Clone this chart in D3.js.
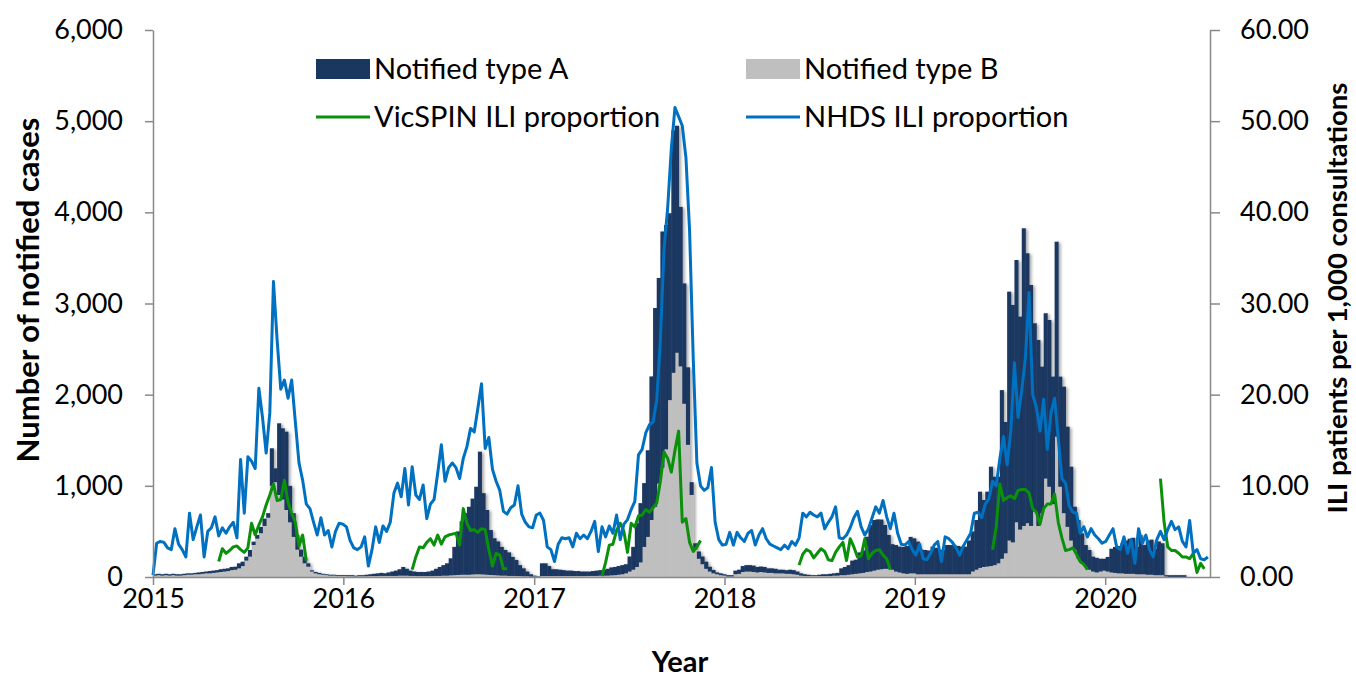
<!DOCTYPE html>
<html>
<head>
<meta charset="utf-8">
<script src="https://d3js.org/d3.v7.min.js"></script>
<style>
  body { margin: 0; background: #fff; }
  svg text { font-family: Lato, "Open Sans", sans-serif; fill: #000; }
</style>
</head>
<body>
<div id="chart"></div>
<script>

// weekly series, first week starts 1 Jan 2015
const firstWeek = new Date(2015, 0, 1)
const years = [2015, 2016, 2017, 2018, 2019, 2020]
const caseTicks = [0, 1000, 2000, 3000, 4000, 5000, 6000]
const iliTicks = [0, 10, 20, 30, 40, 50, 60]

// notified cases, type A (stacked on top of type B)
const typeA = [
  15,15,15,15,15,15,15,15,15,15, 15,15,20,20,20,25,25,25,30,30,
  30,35,33,55,48,43,73,37,41,70, 80,50,412,152,786,781,859,400,260,160,
  77,73,37,13,15,15,10,10,10,10, 10,10,10,
  12,12,9,12,12,17,20,25,30,33, 28,38,48,58,70,95,75,58,48,45,
  45,45,50,60,78,98,115,135,187,310, 478,585,675,745,832,960,1345,892,710,493,
  405,372,315,281,258,208,176,120,87,52, 25,10,5,
  140,140,110,75,75,70,65,60,60,55, 55,50,50,48,53,58,60,65,75,87,
  90,95,100,100,165,250,480,650,700,950, 1575,2180,2255,2590,2460,2050,2660,2490,1750,1320,
  850,140,70,80,85,78,53,37,20,20, 15,
  15,15,40,45,65,70,70,70,60,60, 60,50,50,50,40,40,40,45,45,35,
  25,20,15,10,10,15,20,20,25,25, 30,75,90,105,150,155,230,245,387,510,
  555,552,545,480,371,280,290,283,290,305, 400,384,
  358,270,266,260,303,290,266,270,321,321, 321,310,303,303,370,440,545,836,735,821,
  1090,970,950,1850,1440,2730,2604,2877,2336,3265, 2961,2643,2063,2040,1607,1813,1829,1398,2138,1208,
  1388,1099,810,471,425,329,240,216,163,160, 140,130,
  160,260,285,300,330,365,385,395,300,430, 320,375,385,290,370,350,15,20,20,20,
  20,20,0,0,0,0,0,0,0
]

// notified cases, type B
const typeB = [
  15,20,15,20,15,20,15,15,20,25, 25,30,30,35,40,40,45,50,55,60,
  65,75,80,95,120,180,223,351,420,480, 560,650,1000,1040,900,850,735,600,440,300,
  223,150,113,60,40,30,25,20,15,15, 10,10,10,
  8,8,6,8,8,8,10,10,10,12, 12,12,12,12,15,15,15,12,12,10,
  10,10,10,10,12,12,15,15,18,20, 22,25,25,25,28,30,30,28,25,22,
  20,18,15,15,12,12,10,10,8,8, 5,5,5,
  10,10,10,10,10,10,10,10,10,10, 10,10,10,12,12,12,15,15,15,18,
  20,25,30,40,60,80,110,160,330,440, 625,770,1025,1200,1400,1940,2240,2460,2310,1900,
  1450,900,300,200,140,90,60,40,30,20, 15,
  5,5,30,35,55,60,60,55,50,55, 50,45,45,40,40,40,35,35,30,25,
  15,10,10,10,10,10,10,10,10,15, 15,20,20,25,30,35,40,45,55,60,
  70,80,85,90,90,80,60,50,40,35, 40,40,
  30,30,30,30,30,30,30,30,30,30, 30,30,30,30,30,60,80,100,110,115,
  120,130,150,200,260,400,380,600,520,560, 590,560,720,560,700,1080,990,800,1540,990,
  700,550,400,300,200,150,110,80,60,50, 60,70,
  60,50,45,40,40,35,35,35,30,30, 30,25,25,20,20,20,5,0,0,0,
  0,0,0,0,0,0,0,0,0
]

// NHDS ILI proportion (per 1,000 consultations)
const nhds = [
  0.2,3.7,3.9,3.8,3.2,3.0,5.3,3.6,3.0,2.2, 7.0,4.1,5.5,6.8,2.2,5.0,5.4,6.6,4.5,5.4,
  4.8,5.5,6.0,4.3,12.9,7.0,13.2,12.7,11.9,20.7, 17.5,13.6,18.0,32.4,26.0,20.6,21.6,19.6,21.6,17.0,
  12.5,10.6,8.0,7.5,6.0,4.6,6.5,4.6,5.1,3.3, 5.0,5.9,5.8,
  5.5,4.0,3.2,3.0,3.3,4.4,1.2,3.0,5.5,3.8, 5.6,5.0,6.0,9.2,10.3,8.8,11.9,7.9,12.1,9.0,
  8.5,10.1,6.4,8.0,8.5,11.4,14.5,10.5,12.0,12.5, 12.0,10.8,13.0,14.3,16.3,15.9,18.5,21.2,14.1,15.3,
  11.8,10.5,9.5,7.2,6.9,7.6,7.9,10.0,6.9,6.0, 5.5,5.4,6.8,
  7.0,6.2,3.3,3.0,1.7,3.6,4.3,4.2,4.3,3.3, 4.8,4.2,4.6,4.2,5.0,6.1,2.8,5.5,4.4,5.6,
  4.8,6.8,4.1,5.8,6.3,7.4,8.3,13.4,14.0,15.8, 16.7,17.0,19.4,26.0,36.0,40.5,47.0,51.5,50.5,49.5,
  46.0,38.0,24.0,12.5,10.0,9.5,9.8,12.0,6.0,4.1, 3.5,
  3.6,4.9,3.5,4.9,4.3,3.9,4.8,5.1,3.5,4.6, 5.3,4.2,3.6,3.4,3.2,3.0,3.5,3.1,3.9,3.5,
  4.3,7.0,6.6,7.1,6.8,6.6,7.0,5.3,6.0,6.6, 7.7,4.3,4.2,4.6,5.4,6.5,7.2,5.5,4.6,5.3,
  6.5,7.7,7.0,8.4,6.6,5.3,7.0,4.8,3.6,3.5, 3.9,3.0,
  2.4,3.6,2.0,1.9,2.6,3.5,3.9,1.7,4.4,4.2, 3.8,3.2,2.4,3.4,4.1,4.8,7.0,7.1,6.5,8.0,
  8.6,10.5,10.0,13.0,15.4,12.3,16.0,23.5,17.5,20.5, 24.0,31.2,20.0,18.6,16.0,19.5,14.0,18.0,19.6,15.2,
  10.8,10.3,7.8,7.1,7.0,4.8,5.5,4.4,5.3,4.6, 4.2,3.7,
  3.9,4.6,5.3,3.3,3.0,4.4,2.6,4.1,1.5,5.3, 3.7,4.6,3.0,2.2,4.1,5.0,4.1,5.2,6.1,5.2,
  5.5,3.9,3.3,6.2,2.6,3.0,2.0,1.9,2.2
]

// VicSPIN ILI proportion, one list per season, with the week it starts
const vicspinStart = [18, 71, 123, 177, 230, 276]
const vicspinSeasons = [
  [1.7,3.1,2.6,2.9,3.3,3.4,3.0,2.7,3.2,5.9,4.6,5.7,6.6,7.9,9.0,10.2,8.4,8.5,10.6,8.2,7.0,6.0,3.4,4.6,1.8],
  [0.8,2.2,3.3,3.2,3.8,4.2,3.5,4.6,3.6,4.4,4.6,4.7,4.8,3.5,7.5,5.9,5.1,5.2,4.9,5.3,5.2,3.0,1.2,2.6,2.4,0.9,0.9],
  [0.1,1.6,3.5,3.6,5.1,5.9,5.0,2.7,5.9,5.5,6.7,6.8,7.4,7.1,7.6,8.1,10.5,13.7,13.0,11.5,13.9,16.0,6.0,6.4,3.8,2.8,3.3,4.0],
  [1.3,2.5,3.0,2.8,2.1,2.6,3.1,2.8,1.9,1.8,2.7,3.3,3.8,1.8,4.2,3.3,2.2,2.3,4.2,2.0,2.6,2.9,3.0,2.4,2.0,0.8],
  [3.0,5.5,10.2,8.4,8.7,8.9,8.6,9.5,9.6,9.6,9.2,7.5,7.1,5.8,7.5,8.0,8.0,9.1,6.0,4.3,2.9,3.0,3.2,2.5,1.7,1.4,0.8],
  [10.8,6.0,3.3,2.9,2.9,2.6,2.2,2.2,2.0,2.6,0.5,1.5,0.9]
]

const width = 1356
const height = 680
const plotLeft = 153, plotRight = 1210, plotTop = 30, plotBottom = 577

const svg = d3.select("#chart")
  .append("svg")
    .attr("width", width)
    .attr("height", height)

const weekDate = i => d3.timeDay.offset(firstWeek, 7 * i)

const weeks = typeA.map((a, i) => ({ date: weekDate(i), A: a, B: typeB[i] }))

const vicspin = weeks.map(() => null)
vicspinSeasons.forEach((season, s) => {
  season.forEach((v, j) => { vicspin[vicspinStart[s] + j] = v })
})

const x = d3.scaleTime()
  .domain([new Date(2015, 0, 1), new Date(2020, 6, 20)])
  .range([plotLeft, plotRight])
const yCases = d3.scaleLinear().domain([0, 6000]).range([plotBottom, plotTop])
const yIli = d3.scaleLinear().domain([0, 60]).range([plotBottom, plotTop])

// drop shadow like the original bars
const defs = svg.append("defs")
defs.append("filter")
    .attr("id", "shadow")
    .attr("x", "-5%").attr("y", "-5%").attr("width", "110%").attr("height", "110%")
  .append("feDropShadow")
    .attr("dx", 2).attr("dy", 1)
    .attr("stdDeviation", 1.5)
    .attr("flood-color", "#000")
    .attr("flood-opacity", 0.35)
defs.append("clipPath")
    .attr("id", "plot")
  .append("rect")
    .attr("x", plotLeft).attr("y", 0)
    .attr("width", plotRight - plotLeft).attr("height", plotBottom)

// stacked bars: type B at the bottom, type A above
const stacked = d3.stack().keys(["B", "A"])(weeks)
const barColor = { A: "#1a3760", B: "#bfbfbf" }

const bars = svg.append("g")
    .attr("clip-path", "url(#plot)")
  .append("g")
    .attr("filter", "url(#shadow)")

bars.selectAll("g")
  .data(stacked)
  .join("g")
    .attr("fill", d => barColor[d.key])
  .selectAll("rect")
  .data(d => d)
  .join("rect")
    .attr("x", d => x(d.data.date))
    .attr("width", d => x(d3.timeDay.offset(d.data.date, 7)) - x(d.data.date) + 0.4)
    .attr("y", d => yCases(d[1]))
    .attr("height", d => yCases(d[0]) - yCases(d[1]))

// ILI lines on the right axis
const line = d3.line()
  .defined(d => d != null)
  .x((d, i) => x(weekDate(i)))
  .y(d => yIli(d))

svg.append("path")
    .datum(vicspin)
    .attr("fill", "none")
    .attr("stroke", "#0a900a")
    .attr("stroke-width", 3)
    .attr("stroke-linejoin", "round")
    .attr("d", line)

svg.append("path")
    .datum(nhds)
    .attr("fill", "none")
    .attr("stroke", "#0070c0")
    .attr("stroke-width", 3)
    .attr("stroke-linejoin", "round")
    .attr("d", line)

// axes
const axisColor = "#898989"

const gLeft = svg.append("g")
    .attr("transform", `translate(${plotLeft},0)`)
    .call(d3.axisLeft(yCases)
      .tickValues(caseTicks)
      .tickFormat(d3.format(","))
      .tickSize(8).tickSizeOuter(0)
      .tickPadding(22))

const gRight = svg.append("g")
    .attr("transform", `translate(${plotRight},0)`)
    .call(d3.axisRight(yIli)
      .tickValues(iliTicks)
      .tickFormat(d3.format(".2f"))
      .tickSize(10).tickSizeOuter(0)
      .tickPadding(20))

const gBottom = svg.append("g")
    .attr("transform", `translate(0,${plotBottom})`)
    .call(d3.axisBottom(x)
      .tickValues(years.map(y => new Date(y, 0, 1)))
      .tickFormat(d3.timeFormat("%Y"))
      .tickSize(8).tickSizeOuter(0)
      .tickPadding(4))

for (const g of [gLeft, gRight, gBottom]) {
  g.selectAll("path, line").attr("stroke", axisColor).attr("stroke-width", 1.5)
  g.selectAll("text").attr("font-size", 27).attr("font-family", "Lato, sans-serif").attr("fill", "#000")
}

// axis titles
svg.append("text")
    .attr("transform", "translate(39,290) rotate(-90)")
    .attr("text-anchor", "middle")
    .attr("font-size", 31)
    .attr("font-weight", "bold")
    .text("Number of notified cases")

svg.append("text")
    .attr("transform", "translate(1347,298) rotate(-90)")
    .attr("text-anchor", "middle")
    .attr("font-size", 27.5)
    .attr("font-weight", "bold")
    .text("ILI patients per 1,000 consultations")

svg.append("text")
    .attr("x", 680)
    .attr("y", 672)
    .attr("text-anchor", "middle")
    .attr("font-size", 29)
    .attr("font-weight", "bold")
    .text("Year")

// legend
const legend = [
  { label: "Notified type A", kind: "bar", color: barColor.A, x: 316, y: 69 },
  { label: "Notified type B", kind: "bar", color: barColor.B, x: 746, y: 69 },
  { label: "VicSPIN ILI proportion", kind: "line", color: "#0a900a", x: 316, y: 117 },
  { label: "NHDS ILI proportion", kind: "line", color: "#0070c0", x: 746, y: 117 }
]

const lg = svg.append("g").selectAll("g")
  .data(legend)
  .join("g")
    .attr("transform", d => `translate(${d.x},${d.y})`)

lg.filter(d => d.kind === "bar").append("rect")
    .attr("x", 0).attr("y", -10)
    .attr("width", 54).attr("height", 20)
    .attr("fill", d => d.color)
lg.filter(d => d.kind === "line").append("line")
    .attr("x1", 0).attr("x2", 54)
    .attr("stroke", d => d.color)
    .attr("stroke-width", 3)
lg.append("text")
    .attr("x", 58)
    .attr("dy", "0.35em")
    .attr("font-size", 29)
    .text(d => d.label)

</script>
</body>
</html>
